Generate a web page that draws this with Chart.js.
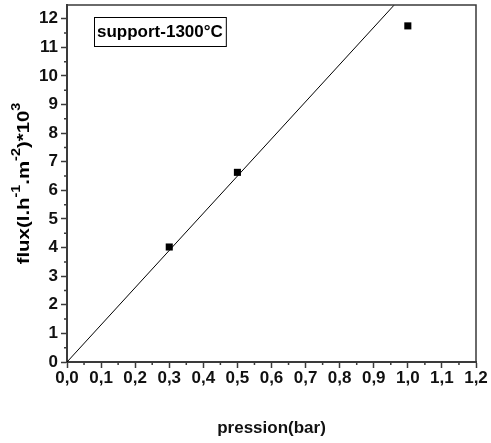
<!DOCTYPE html>
<html>
<head>
<meta charset="UTF-8">
<title>flux vs pression</title>
<script src="https://cdn.jsdelivr.net/npm/chart.js@4.4.0/dist/chart.umd.min.js"></script>
<style>
    body { margin: 0; background: #fff; }
    #wrap { width: 491px; height: 443px; }
</style>
</head>
<body>
<div id="wrap"><canvas id="myChart"></canvas></div>
<script>
// measured points
var pression = [0.3, 0.5, 1.0];
var flux = [4.02, 6.63, 11.75];
// linear fit through origin
var fitX = [0, 1.2];
var fitY = [0, 15.6];
// ticks
var xTickValues = [0, 0.1, 0.2, 0.3, 0.4, 0.5, 0.6, 0.7, 0.8, 0.9, 1.0, 1.1, 1.2];
var xMinorValues = [0.05, 0.15, 0.25, 0.35, 0.45, 0.55, 0.65, 0.75, 0.85, 0.95, 1.05, 1.15];
var yTickValues = [0, 1, 2, 3, 4, 5, 6, 7, 8, 9, 10, 11, 12];
var yMinorValues = [0.5, 1.5, 2.5, 3.5, 4.5, 5.5, 6.5, 7.5, 8.5, 9.5, 10.5, 11.5];
var legendText = 'support-1300°C';

var axisColor = '#3a3a3a';
var fontFamily = '"Liberation Sans", Arial, sans-serif';

var framePlugin = {
    id: 'frame',
    afterDraw: function (chart) {
        var ctx = chart.ctx, a = chart.chartArea;
        var xs = chart.scales.x, ys = chart.scales.y;
        ctx.save();
        // top and right frame
        ctx.strokeStyle = axisColor;
        ctx.lineWidth = 1.5;
        ctx.beginPath();
        ctx.moveTo(a.left, a.top);
        ctx.lineTo(a.right, a.top);
        ctx.lineTo(a.right, a.bottom);
        ctx.stroke();
        // minor ticks
        ctx.beginPath();
        xMinorValues.forEach(function (v) {
            var px = xs.getPixelForValue(v);
            ctx.moveTo(px, a.bottom);
            ctx.lineTo(px, a.bottom + 3);
        });
        yMinorValues.forEach(function (v) {
            var py = ys.getPixelForValue(v);
            ctx.moveTo(a.left, py);
            ctx.lineTo(a.left - 3, py);
        });
        ctx.stroke();

        // legend box
        ctx.font = 'bold 17px ' + fontFamily;
        var tw = ctx.measureText(legendText).width;
        var bx = a.left + 27, by = a.top + 12, bw = tw + 6, bh = 29;
        ctx.strokeStyle = '#000';
        ctx.lineWidth = 1;
        ctx.strokeRect(bx + 0.5, by + 0.5, bw, bh);
        ctx.fillStyle = '#000';
        ctx.textBaseline = 'middle';
        ctx.textAlign = 'left';
        ctx.fillText(legendText, bx + 3, by + bh / 2 + 1);

        // y axis title with superscripts
        var parts = [['flux(l.h', 0], ['-1', 1], ['.m', 0], ['-2', 1], [')*10', 0], ['3', 1]];
        var big = 'bold 17px ' + fontFamily, small = 'bold 12px ' + fontFamily;
        var total = 0;
        parts.forEach(function (p) {
            ctx.font = p[1] ? small : big;
            total += ctx.measureText(p[0]).width;
        });
        ctx.translate(24, (a.top + a.bottom) / 2);
        ctx.rotate(-Math.PI / 2);
        ctx.scale(1.2, 1);
        var cx = -total / 2;
        parts.forEach(function (p) {
            ctx.font = p[1] ? small : big;
            ctx.fillText(p[0], cx, p[1] ? -7 : 0);
            cx += ctx.measureText(p[0]).width;
        });
        ctx.restore();
    }
};

var ctx = document.getElementById('myChart').getContext('2d');
var chart = new Chart(ctx, {
    type: 'scatter',
    data: {
        datasets: [{
            label: 'points',
            data: pression.map(function (x, i) { return {x: x, y: flux[i]}; }),
            pointStyle: 'rect',
            pointRadius: 5,
            backgroundColor: '#000',
            borderColor: '#000',
            borderWidth: 0
        }, {
            label: 'fit',
            data: fitX.map(function (x, i) { return {x: x, y: fitY[i]}; }),
            showLine: true,
            pointRadius: 0,
            borderColor: '#000',
            borderWidth: 1
        }]
    },
    options: {
        responsive: true,
        maintainAspectRatio: false,
        animation: false,
        layout: {padding: {left: 0, right: 15, top: 3, bottom: 0}},
        plugins: {
            legend: {display: false},
            tooltip: {enabled: false}
        },
        scales: {
            x: {
                type: 'linear',
                min: 0,
                max: 1.2,
                afterBuildTicks: function (s) { s.ticks = xTickValues.map(function (v) { return {value: v}; }); },
                afterFit: function (s) { s.height = 81; },
                grid: {drawOnChartArea: false, tickLength: 6, tickColor: axisColor, tickWidth: 1.5},
                border: {color: axisColor, width: 2},
                ticks: {
                    color: '#111',
                    font: {family: fontFamily, size: 17, weight: 'bold'},
                    padding: 0,
                    maxRotation: 0,
                    autoSkip: false,
                    callback: function (v) { return v.toFixed(1).replace('.', ','); }
                },
                title: {
                    display: true,
                    text: 'pression(bar)',
                    color: '#111',
                    font: {family: fontFamily, size: 17, weight: 'bold'},
                    padding: {top: 30}
                }
            },
            y: {
                type: 'linear',
                min: 0,
                max: 12.48,
                afterBuildTicks: function (s) { s.ticks = yTickValues.map(function (v) { return {value: v}; }); },
                afterFit: function (s) { s.width = 67; s.paddingTop = 0; },
                grid: {drawOnChartArea: false, tickLength: 6, tickColor: axisColor, tickWidth: 1.5},
                border: {color: axisColor, width: 2},
                ticks: {
                    color: '#111',
                    font: {family: fontFamily, size: 17, weight: 'bold'},
                    padding: 3,
                    autoSkip: false
                }
            }
        }
    },
    plugins: [framePlugin]
});
</script>
</body>
</html>
